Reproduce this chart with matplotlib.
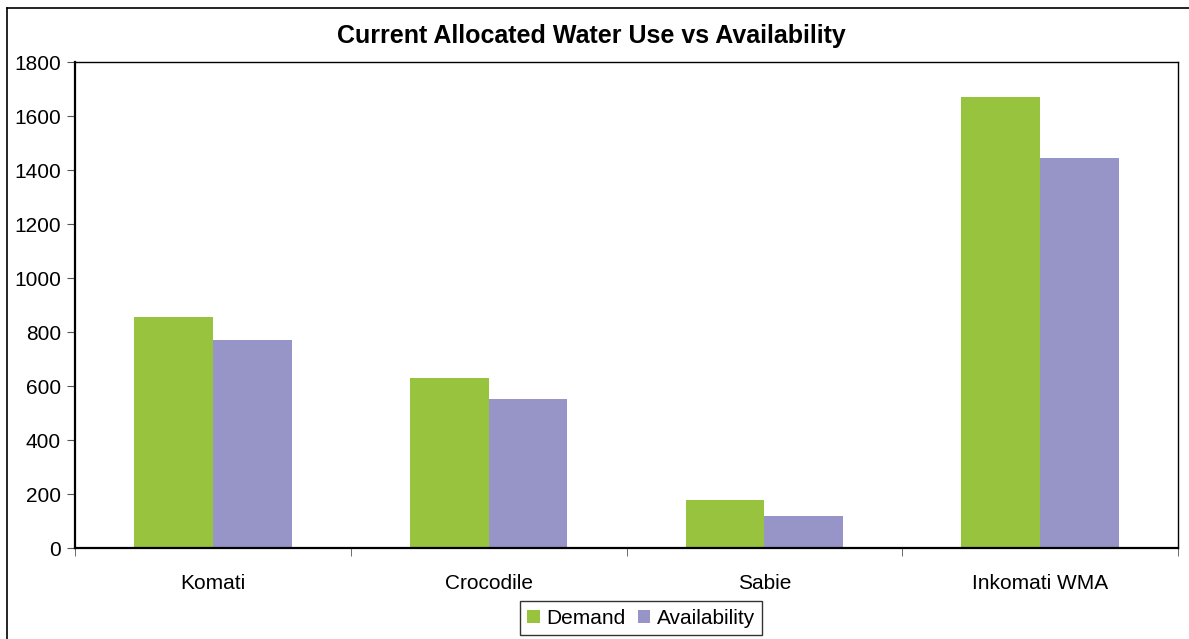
import matplotlib.pyplot as plt
import numpy as np
from matplotlib.lines import Line2D

plt.rcParams['font.family'] = ['Liberation Sans', 'DejaVu Sans']

regions = ['Komati', 'Crocodile', 'Sabie', 'Inkomati WMA']
demand = [855, 630, 178, 1670]
availability = [770, 552, 118, 1444]

W, H = 1189, 639
fig = plt.figure(figsize=(W / 100, H / 100), dpi=100)

# outer chart frame (left and top edges visible)
fig.add_artist(Line2D([7 / W, 7 / W], [0, 1 - 8 / H], transform=fig.transFigure, color='black', lw=1.2))
fig.add_artist(Line2D([7 / W, 1], [1 - 8 / H, 1 - 8 / H], transform=fig.transFigure, color='black', lw=1.2))

ax = fig.add_axes([75 / W, (H - 548) / H, 1103 / W, 486 / H])

x = np.arange(len(regions))
bw = 1 / 3.5
ax.bar(x - bw / 2, demand, bw, color='#98c33e', label='Demand')
ax.bar(x + bw / 2, availability, bw, color='#9794c8', label='Availability')

ax.set_xlim(-0.5, len(regions) - 0.5)
ax.set_ylim(0, 1800)
ax.set_yticks(np.arange(0, 1801, 200))
ax.set_xticks(x)
ax.set_xticklabels(regions)
ax.set_xticks(np.arange(-0.5, len(regions)), minor=True)
ax.tick_params(axis='x', which='major', length=0, pad=19, labelsize=15)
ax.tick_params(axis='x', which='minor', length=6, direction='out', color='#555555')
ax.tick_params(axis='y', length=6, direction='out', labelsize=15, pad=4, color='#555555')

for side in ['left', 'bottom']:
    ax.spines[side].set_linewidth(1.6)
for side in ['top', 'right']:
    ax.spines[side].set_linewidth(1.0)

fig.text(591 / W, 1 - 36 / H, 'Current Allocated Water Use vs Availability',
         ha='center', va='center', fontsize=18, fontweight='bold')

leg = fig.legend(loc='center', bbox_to_anchor=(641 / W, 1 - 618 / H), ncol=2,
                 fontsize=15, frameon=True, fancybox=False, edgecolor='black',
                 handlelength=0.6, handleheight=0.6, handletextpad=0.3,
                 columnspacing=0.6, borderpad=0.35)
leg.get_frame().set_linewidth(1.0)

fig.savefig('out.png', dpi=100)
